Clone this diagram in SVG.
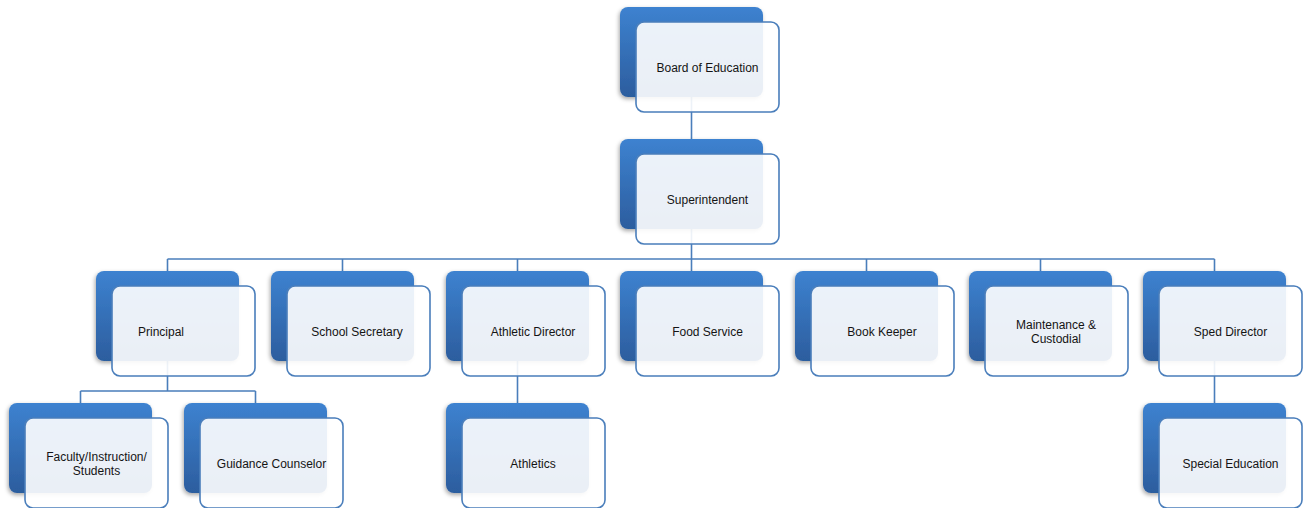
<svg xmlns="http://www.w3.org/2000/svg" width="1307" height="508" viewBox="0 0 1307 508">
<defs>
<linearGradient id="blueGrad" x1="0" y1="0" x2="0" y2="1">
<stop offset="0" stop-color="#3d82d0"/>
<stop offset="1" stop-color="#2c5d9e"/>
</linearGradient>
<filter id="shadow" x="-20%" y="-20%" width="140%" height="150%">
<feDropShadow dx="-1" dy="2" stdDeviation="2" flood-color="#000" flood-opacity="0.35"/>
</filter>
</defs>
<style>
.back{fill:url(#blueGrad);filter:url(#shadow);}
.front{fill:#ffffff;fill-opacity:0.9;stroke:#4a7ebb;stroke-width:1.6;}
.lbl{font-family:"Liberation Sans",Arial,sans-serif;font-size:12px;fill:#141414;text-anchor:middle;dominant-baseline:central;}
.conn{fill:none;stroke:#4a7ebb;stroke-width:1.6;}
</style>
<rect width="1307" height="508" fill="#ffffff"/>
<g id="connectors">
<path class="conn" d="M691.5,97 V139"/>
<path class="conn" d="M691.5,229 V259"/>
<path class="conn" d="M167.5,259 H1214.5"/>
<path class="conn" d="M167.5,259 V271 M342.5,259 V271 M517.5,259 V271 M691.5,259 V271 M866.5,259 V271 M1040.5,259 V271 M1214.5,259 V271"/>
<path class="conn" d="M167.5,361 V391 M80.5,391 H255.5 M80.5,391 V403 M255.5,391 V403"/>
<path class="conn" d="M517.5,361 V403"/>
<path class="conn" d="M1214.5,361 V403"/>
</g>
<g id="board">
<rect class="back" x="620" y="7" width="143" height="90" rx="8"/>
<rect class="front" x="636" y="22" width="143" height="90" rx="8"/>
<text class="lbl" x="707.5" y="68">Board of Education</text>
</g>
<g id="superintendent">
<rect class="back" x="620" y="139" width="143" height="90" rx="8"/>
<rect class="front" x="636" y="154" width="143" height="90" rx="8"/>
<text class="lbl" x="707.5" y="200">Superintendent</text>
</g>
<g id="principal">
<rect class="back" x="96" y="271" width="143" height="90" rx="8"/>
<rect class="front" x="112" y="286" width="143" height="90" rx="8"/>
<text class="lbl" x="161" y="332">Principal</text>
</g>
<g id="school-secretary">
<rect class="back" x="271" y="271" width="143" height="90" rx="8"/>
<rect class="front" x="287" y="286" width="143" height="90" rx="8"/>
<text class="lbl" x="357" y="332">School Secretary</text>
</g>
<g id="athletic-director">
<rect class="back" x="446" y="271" width="143" height="90" rx="8"/>
<rect class="front" x="462" y="286" width="143" height="90" rx="8"/>
<text class="lbl" x="533" y="332">Athletic Director</text>
</g>
<g id="food-service">
<rect class="back" x="620" y="271" width="143" height="90" rx="8"/>
<rect class="front" x="636" y="286" width="143" height="90" rx="8"/>
<text class="lbl" x="707.5" y="332">Food Service</text>
</g>
<g id="book-keeper">
<rect class="back" x="795" y="271" width="143" height="90" rx="8"/>
<rect class="front" x="811" y="286" width="143" height="90" rx="8"/>
<text class="lbl" x="882" y="332">Book Keeper</text>
</g>
<g id="maintenance">
<rect class="back" x="969" y="271" width="143" height="90" rx="8"/>
<rect class="front" x="985" y="286" width="143" height="90" rx="8"/>
<text class="lbl" x="1056" y="325">Maintenance &amp;</text>
<text class="lbl" x="1056" y="339">Custodial</text>
</g>
<g id="sped-director">
<rect class="back" x="1143" y="271" width="143" height="90" rx="8"/>
<rect class="front" x="1159" y="286" width="143" height="90" rx="8"/>
<text class="lbl" x="1230.5" y="332">Sped Director</text>
</g>
<g id="faculty">
<rect class="back" x="9" y="403" width="143" height="90" rx="8"/>
<rect class="front" x="25" y="418" width="143" height="90" rx="8"/>
<text class="lbl" x="96.5" y="457">Faculty/Instruction/</text>
<text class="lbl" x="96.5" y="471">Students</text>
</g>
<g id="guidance">
<rect class="back" x="184" y="403" width="143" height="90" rx="8"/>
<rect class="front" x="200" y="418" width="143" height="90" rx="8"/>
<text class="lbl" x="271.5" y="464">Guidance Counselor</text>
</g>
<g id="athletics">
<rect class="back" x="446" y="403" width="143" height="90" rx="8"/>
<rect class="front" x="462" y="418" width="143" height="90" rx="8"/>
<text class="lbl" x="533" y="464">Athletics</text>
</g>
<g id="special-education">
<rect class="back" x="1143" y="403" width="143" height="90" rx="8"/>
<rect class="front" x="1159" y="418" width="143" height="90" rx="8"/>
<text class="lbl" x="1230.5" y="464">Special Education</text>
</g>
</svg>
